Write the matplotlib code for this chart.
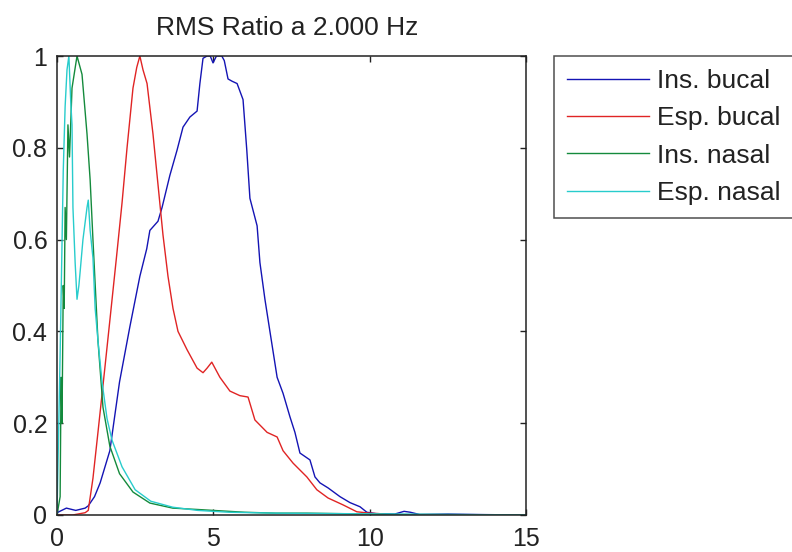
import matplotlib
matplotlib.use("Agg")
import matplotlib.pyplot as plt

plt.rcParams["font.family"] = ["Liberation Sans", "DejaVu Sans"]

# values
ins_bucal_x = [0, 0.3, 0.6, 0.9, 1.0, 1.2, 1.38, 1.69, 2.0, 2.33, 2.65, 2.87, 2.97, 3.23, 3.36,
               3.61, 3.84, 4.03, 4.25, 4.48, 4.57, 4.67, 4.8, 4.9, 4.99, 5.1, 5.27, 5.35, 5.47,
               5.6, 5.76, 5.95, 6.07, 6.17, 6.4, 6.49, 6.65, 6.81, 7.04, 7.23, 7.45, 7.61, 7.77,
               8.09, 8.25, 8.41, 8.67, 9.05, 9.37, 9.69, 9.91, 10.2, 10.8, 11.1, 11.3, 11.6,
               12.5, 13.5, 15]
ins_bucal_y = [0.005, 0.015, 0.01, 0.015, 0.02, 0.04, 0.07, 0.14, 0.29, 0.41, 0.52, 0.58, 0.62,
               0.64, 0.67, 0.74, 0.795, 0.845, 0.867, 0.88, 0.94, 0.995, 1.0, 1.0, 0.985, 1.0,
               1.0, 0.99, 0.95, 0.945, 0.94, 0.905, 0.795, 0.69, 0.63, 0.55, 0.47, 0.40, 0.30,
               0.265, 0.214, 0.18, 0.135, 0.12, 0.083, 0.07, 0.059, 0.04, 0.027, 0.018, 0.006,
               0.003, 0.002, 0.008, 0.006, 0.001, 0.002, 0.001, 0.0]

esp_bucal_x = [0, 0.5, 0.9, 1.0, 1.15, 1.31, 1.53, 1.7, 1.9, 2.08, 2.24, 2.43, 2.55, 2.65, 2.75,
               2.88, 3.07, 3.23, 3.39, 3.55, 3.71, 3.87, 4.16, 4.48, 4.67, 4.8, 4.95, 5.21, 5.53,
               5.85, 6.11, 6.33, 6.72, 7.04, 7.23, 7.55, 7.77, 7.99, 8.31, 8.67, 9.15, 9.59, 10.0,
               10.3, 10.6, 15]
esp_bucal_y = [0, 0.0, 0.005, 0.01, 0.08, 0.18, 0.32, 0.43, 0.56, 0.68, 0.80, 0.93, 0.975, 1.0,
               0.97, 0.94, 0.83, 0.72, 0.61, 0.52, 0.45, 0.40, 0.36, 0.32, 0.31, 0.32, 0.333,
               0.30, 0.27, 0.26, 0.257, 0.207, 0.18, 0.17, 0.14, 0.113, 0.098, 0.083, 0.055,
               0.037, 0.022, 0.007, 0.004, 0.003, 0.0, 0.0]

ins_nasal_x = [0, 0.05, 0.1, 0.13, 0.16, 0.2, 0.23, 0.26, 0.3, 0.35, 0.4, 0.48, 0.64, 0.8, 0.96,
               1.06, 1.15, 1.31, 1.47, 1.69, 2.0, 2.43, 2.97, 3.7, 4.5, 5.0, 6, 7, 8, 9, 10, 11,
               12, 15]
ins_nasal_y = [0.0, 0.02, 0.04, 0.3, 0.2, 0.5, 0.45, 0.67, 0.6, 0.85, 0.78, 0.93, 1.0, 0.96, 0.83,
               0.73, 0.6, 0.38, 0.235, 0.15, 0.09, 0.05, 0.026, 0.015, 0.012, 0.01, 0.006, 0.004,
               0.004, 0.003, 0.002, 0.001, 0.001, 0.0]

esp_nasal_x = [0, 0.1, 0.2, 0.26, 0.32, 0.38, 0.44, 0.48, 0.51, 0.58, 0.64, 0.7, 0.74, 0.83, 0.96,
               1.0, 1.06, 1.15, 1.22, 1.31, 1.44, 1.6, 1.76, 2.08, 2.5, 3.0, 3.7, 4.5, 5.5, 7, 9,
               11, 13, 15]
esp_nasal_y = [0.0, 0.35, 0.75, 0.89, 0.97, 1.0, 0.9, 0.85, 0.67, 0.55, 0.47, 0.5, 0.53, 0.6,
               0.67, 0.686, 0.62, 0.56, 0.45, 0.38, 0.29, 0.21, 0.163, 0.105, 0.055, 0.03, 0.017,
               0.01, 0.006, 0.004, 0.003, 0.002, 0.001, 0.0]

labels = ["Ins. bucal", "Esp. bucal", "Ins. nasal", "Esp. nasal"]
colors = ["#1414b4", "#e02424", "#148a3c", "#28cccc"]
x_ticks = [0, 5, 10, 15]
y_ticks = [0, 0.2, 0.4, 0.6, 0.8, 1]
y_tick_labels = ["0", "0.2", "0.4", "0.6", "0.8", "1"]


def main():
    fig = plt.figure(figsize=(7.92, 5.52), dpi=100)
    ax = fig.add_axes([57 / 792, 37 / 552, 469 / 792, 459 / 552])

    series = [
        (ins_bucal_x, ins_bucal_y),
        (esp_bucal_x, esp_bucal_y),
        (ins_nasal_x, ins_nasal_y),
        (esp_nasal_x, esp_nasal_y),
    ]
    for (xs, ys), label, color in zip(series, labels, colors):
        ax.plot(xs, ys, color=color, lw=1.0, label=label)

    ax.set_xlim(0, 15)
    ax.set_ylim(0, 1)
    ax.set_xticks(x_ticks)
    ax.set_xticklabels([str(t) for t in x_ticks])
    ax.set_yticks(y_ticks)
    ax.set_yticklabels(y_tick_labels)
    ax.tick_params(direction="in", top=True, right=True, length=4, width=1,
                   labelsize=18, colors="#222222")
    ax.tick_params(axis="x", pad=9)
    ax.tick_params(axis="y", pad=7)
    for spine in ax.spines.values():
        spine.set_linewidth(1.1)
        spine.set_color("#222222")

    ax.set_title("RMS Ratio a 2.000 Hz", fontsize=19, pad=15, color="#222222", x=0.49)

    leg = ax.legend(loc="upper left", bbox_to_anchor=(554 / 792, 1 - 56 / 552),
                    bbox_transform=fig.transFigure, borderaxespad=0, fontsize=19,
                    frameon=True, fancybox=False, shadow=False, handlelength=3.1,
                    handletextpad=0.3, labelspacing=0.5, borderpad=0.5)
    leg.get_frame().set_edgecolor("#222222")
    leg.get_frame().set_linewidth(1.1)
    for text in leg.get_texts():
        text.set_color("#222222")

    fig.savefig("out.png", dpi=100)


if __name__ == "__main__":
    main()
